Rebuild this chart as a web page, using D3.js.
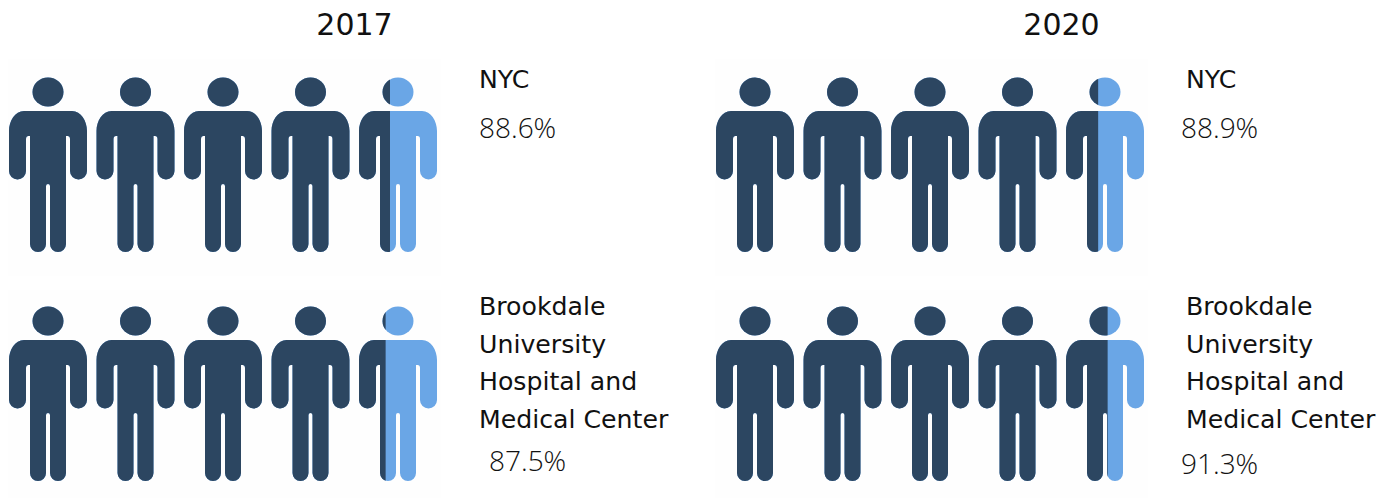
<!DOCTYPE html>
<html>
<head>
<meta charset="utf-8">
<script src="https://cdn.jsdelivr.net/npm/d3@7"></script>
<style>
    html, body { margin: 0; padding: 0; background: #fff; overflow: hidden; }
    text { font-family: "DejaVu Sans", sans-serif; fill: #111; }
    text.value { font-family: "Open Sans", "Noto Sans", sans-serif; font-weight: 300; }
</style>
</head>
<body>
<div id="chart"></div>
<script>
// data
const years = ['2017', '2020'];
const places = ['NYC', 'Brookdale University Hospital and Medical Center'];
const placeLines = [['NYC'], ['Brookdale', 'University', 'Hospital and', 'Medical Center']];
const values2017 = [88.6, 87.5];
const values2020 = [88.9, 91.3];
const valuesByYear = [values2017, values2020];
const people = [0, 1, 2, 3, 4];

const width = 1394, height = 499;
const darkBlue = '#2c4661', lightBlue = '#6aa6e6';

const svg = d3.select('#chart').append('svg')
    .attr('width', width)
    .attr('height', height);

const defs = svg.append('defs');

// person icon, 78 wide and 175 tall
const personPath = 'M15,34 H63 C72,34 78,44 78,54 V94 A8.5,8.5 0 0 1 61,94 V62 Q61,59 58.5,59 H57 V167 A8,8 0 0 1 41,167 V109 Q41,107 39,107 Q37,107 37,109 V167 A8,8 0 0 1 21,167 V59 H19.5 Q17,59 17,62 V94 A8.5,8.5 0 0 1 0,94 V54 C0,44 6,34 15,34 Z';

const panelX = d3.scaleOrdinal().domain(years).range([9, 716]);
const rowY = d3.scaleOrdinal().domain(places).range([77, 306]);
const panelBgY = d3.scaleOrdinal().domain(places).range([59, 290]);
const personX = d3.scalePoint().domain(people).range([0, 350]);

// how much of the last person is filled
const fillScale = d3.scaleLinear().domain([0, 1]).range([-3, 76]);

years.forEach((year, yi) => {
    const x0 = panelX(year);

    svg.append('text')
        .attr('x', x0 + 345.5)
        .attr('y', 35)
        .attr('text-anchor', 'middle')
        .style('font-size', '30px')
        .text(year);

    places.forEach((place, pi) => {
        const value = valuesByYear[yi][pi];

        // faint image background behind the icons
        svg.append('rect')
            .attr('x', x0 - 1)
            .attr('y', panelBgY(place))
            .attr('width', 433)
            .attr('height', pi === 0 ? 217 : 208)
            .attr('fill', '#fefefe');

        people.forEach(i => {
            const frac = value / 100 * people.length - i;
            const clipId = `clip-${yi}-${pi}-${i}`;
            const g = svg.append('g')
                .attr('transform', `translate(${x0 + personX(i)},${rowY(place)})`);

            const clipW = frac >= 1 ? 79 : Math.max(0, fillScale(frac));
            defs.append('clipPath').attr('id', clipId)
                .append('rect')
                .attr('x', -1).attr('y', -1)
                .attr('width', clipW + 1).attr('height', 178);

            [lightBlue, darkBlue].forEach((color, c) => {
                const fig = g.append('g')
                    .attr('fill', color)
                    .attr('clip-path', c === 1 ? `url(#${clipId})` : null);
                fig.append('ellipse').attr('cx', 39).attr('cy', 15).attr('rx', 15.5).attr('ry', 14.5);
                fig.append('path').attr('d', personPath);
            });
        });

        // hospital name and value
        const lineH = 37.6;
        const textY = pi === 0 ? 88 : 315;
        placeLines[pi].forEach((line, l) => {
            svg.append('text')
                .attr('x', x0 + 470)
                .attr('y', textY + l * lineH)
                .style('font-size', '25.2px')
                .text(line);
        });
        svg.append('text')
            .attr('class', 'value')
            .attr('x', x0 + 471 + (yi === 0 && pi === 1 ? 9 : 0) - (yi === 1 ? 6 : 0) - (yi === 0 && pi === 0 ? 1 : 0))
            .attr('y', pi === 0 ? 138 : (yi === 0 ? 471 : 474))
            .style('font-size', '28px')
            .text(value.toFixed(1) + '%');
    });
});
</script>
</body>
</html>
